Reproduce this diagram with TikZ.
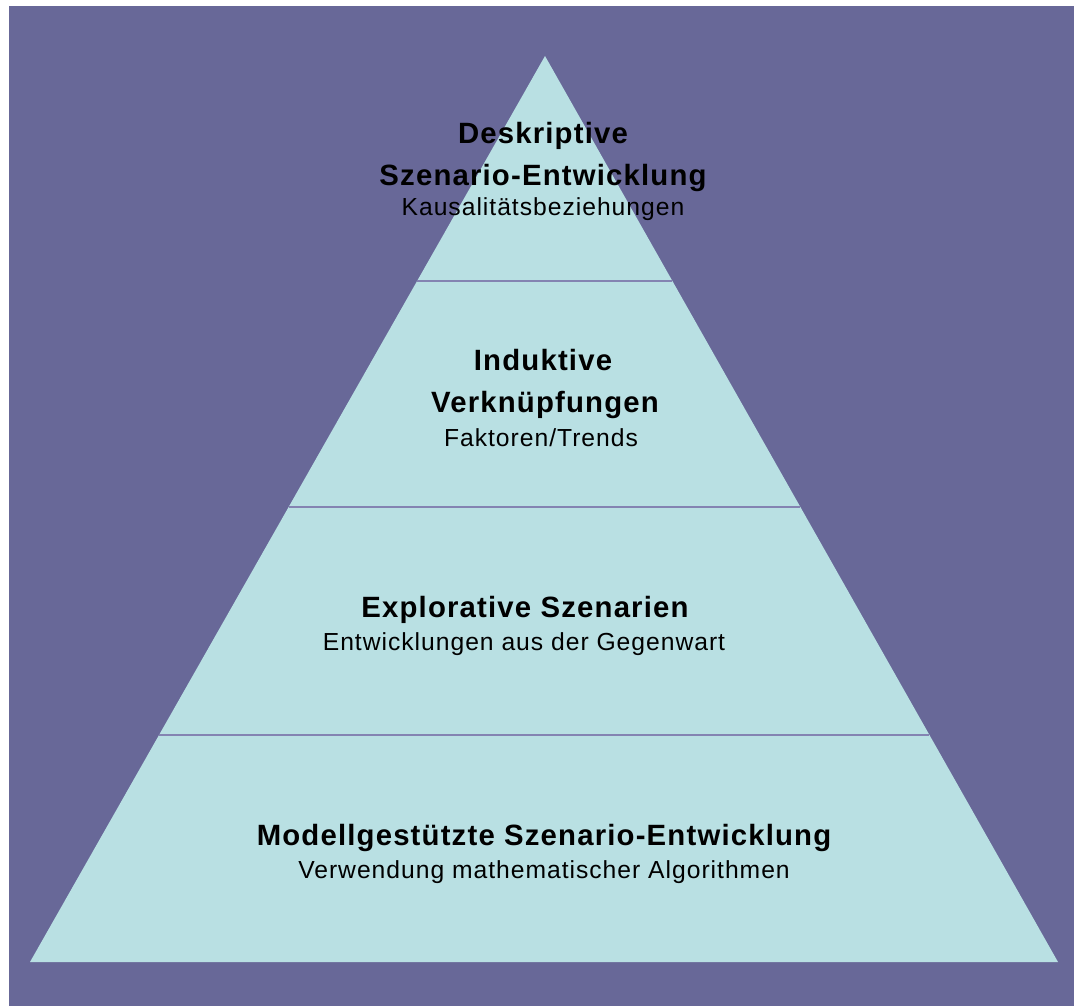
\documentclass[tikz,border=0pt]{standalone}
\usepackage{fontspec}
\setmainfont{Liberation Sans}
\newfontfamily\spacedfont[LetterSpace=4]{Liberation Sans}
\definecolor{bgpurple}{RGB}{104,104,152}
\definecolor{pyrfill}{RGB}{185,224,227}
\definecolor{divline}{RGB}{132,132,178}

\tikzset{
  head/.style={font=\spacedfont\fontsize{22}{26}\selectfont\bfseries, anchor=base, inner sep=0pt},
  sub/.style={font=\spacedfont\fontsize{18.5}{22}\selectfont, anchor=base, inner sep=0pt},
  divider/.style={draw=divline, line width=1.5pt}
}

\begin{document}
\begin{tikzpicture}[x=0.75pt,y=-0.75pt]
   \useasboundingbox (0,0) rectangle (1074,1006);
   \fill[bgpurple] (9,6) rectangle (1074,1006);
   % pyramid
   \coordinate (top) at (545,56);
   \coordinate (bl) at (30,962);
   \coordinate (br) at (1058,962);
   \fill[pyrfill] (top) -- (bl) -- (br) -- cycle;
   \coordinate (l1) at (417,281);
   \coordinate (r1) at (672,281);
   \coordinate (l2) at (289,507);
   \coordinate (r2) at (800,507);
   \coordinate (l3) at (159,735);
   \coordinate (r3) at (929,735);
   \draw[divider] (l1) -- (r1);
   \draw[divider] (l2) -- (r2);
   \draw[divider] (l3) -- (r3);
   % labels
   \node[head] (d1) at (543,143) {Deskriptive};
   \node[head] (d2) at (543,185) {Szenario-Entwicklung};
   \node[sub]  (d3) at (543,215) {Kausalitätsbeziehungen};
   \node[head] (i1) at (543,370) {Induktive};
   \node[head] (i2) at (545,412) {Verknüpfungen};
   \node[sub]  (i3) at (541,446) {Faktoren/Trends};
   \node[head] (e1) at (525,617) {Explorative Szenarien};
   \node[sub]  (e2) at (524,650) {Entwicklungen aus der Gegenwart};
   \node[head] (m1) at (544,845) {Modellgestützte Szenario-Entwicklung};
   \node[sub]  (m2) at (544,878) {Verwendung mathematischer Algorithmen};
\end{tikzpicture}
\end{document}
